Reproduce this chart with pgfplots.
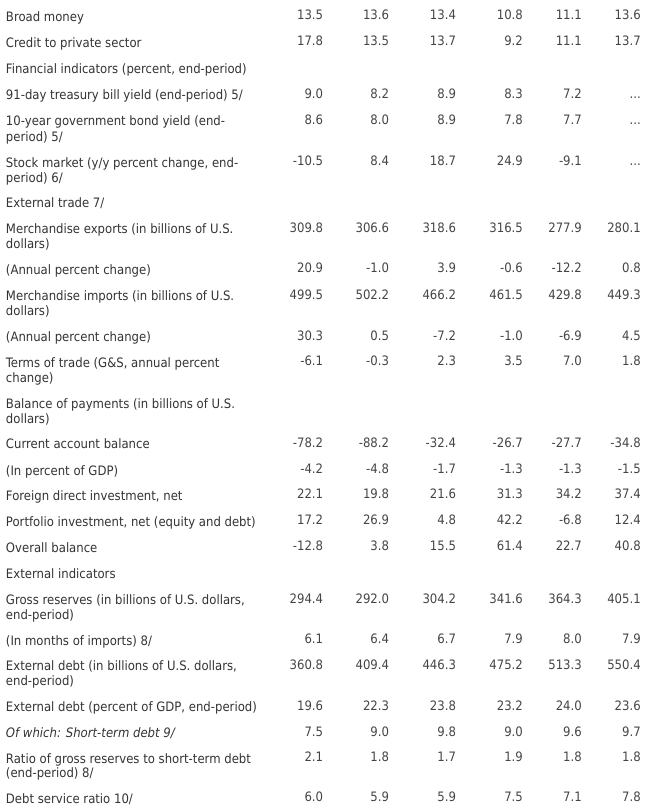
\documentclass[border=0pt]{standalone}
\usepackage{pgfplots}
\usepackage{pgfplotstable}
\usepackage{fontspec}
\setmainfont{DejaVu Sans Condensed}
\pgfplotsset{compat=1.18}
\definecolor{labc}{HTML}{333333}
\definecolor{valc}{HTML}{444444}

\pgfplotstableread[col sep=semicolon]{
y;txt
20.5;Broad money
46.5;Credit to private sector
73;Financial indicators (percent, end-period)
99;91-day treasury bill yield (end-period) 5/
125;10-year government bond yield (end-
140.5;period) 5/
166.5;Stock market (y/y percent change, end-
181.5;period) 6/
207;External trade 7/
233;Merchandise exports (in billions of U.S.
248;dollars)
273.5;(Annual percent change)
300;Merchandise imports (in billions of U.S.
314.5;dollars)
341;(Annual percent change)
366.7;Terms of trade (G\&S, annual percent
381.5;change)
408.3;Balance of payments (in billions of U.S.
423;dollars)
448.3;Current account balance
475;(In percent of GDP)
500;Foreign direct investment, net
526;Portfolio investment, net (equity and debt)
551.7;Overall balance
578;External indicators
604.5;Gross reserves (in billions of U.S. dollars,
619.5;end-period)
645;(In months of imports) 8/
670.5;External debt (in billions of U.S. dollars,
685.5;end-period)
711.5;External debt (percent of GDP, end-period)
737.5;{\itshape Of which: Short-term debt 9/}
763;Ratio of gross reserves to short-term debt
777.5;(end-period) 8/
803;Debt service ratio 10/
}\labels

\pgfplotstableread{
y a b c d e f
19 13.5 13.6 13.4 10.8 11.1 13.6
45 17.8 13.5 13.7 9.2 11.1 13.7
97.5 9.0 8.2 8.9 8.3 7.2 ...
123.5 8.6 8.0 8.9 7.8 7.7 ...
165 -10.5 8.4 18.7 24.9 -9.1 ...
231.5 309.8 306.6 318.6 316.5 277.9 280.1
272 20.9 -1.0 3.9 -0.6 -12.2 0.8
298.5 499.5 502.2 466.2 461.5 429.8 449.3
339.5 30.3 0.5 -7.2 -1.0 -6.9 4.5
365.2 -6.1 -0.3 2.3 3.5 7.0 1.8
446.8 -78.2 -88.2 -32.4 -26.7 -27.7 -34.8
473.5 -4.2 -4.8 -1.7 -1.3 -1.3 -1.5
498.5 22.1 19.8 21.6 31.3 34.2 37.4
524.5 17.2 26.9 4.8 42.2 -6.8 12.4
550.2 -12.8 3.8 15.5 61.4 22.7 40.8
603 294.4 292.0 304.2 341.6 364.3 405.1
643.5 6.1 6.4 6.7 7.9 8.0 7.9
669 360.8 409.4 446.3 475.2 513.3 550.4
710 19.6 22.3 23.8 23.2 24.0 23.6
736 7.5 9.0 9.8 9.0 9.6 9.7
761.5 2.1 1.8 1.7 1.9 1.8 1.8
801.5 6.0 5.9 5.9 7.5 7.1 7.8
}\vals

\begin{document}
\begin{tikzpicture}
\begin{axis}[
  scale only axis, width=646bp, height=808bp,
  xmin=0, xmax=646, ymin=0, ymax=808, y dir=reverse,
  enlargelimits=false, hide axis, clip=false,
  point meta=explicit symbolic,
  nodes near coords,
  every node near coord/.append style={inner sep=0pt, outer sep=0pt,
     font=\fontsize{13bp}{15bp}\selectfont},
]
\addplot[draw=none, forget plot] coordinates {(0,0) (646,808)};
\addplot[draw=none, mark=none, nodes near coords style={anchor=base west, text=labc}]
  table[x expr=5.5, y=y, meta=txt] {\labels};
\pgfplotsforeachungrouped \c/\xx in {a/323, b/389, c/456, d/523, e/582, f/641} {
  \edef\tmp{\noexpand\addplot[draw=none, mark=none, nodes near coords style={anchor=base east, text=valc}]
    table[x expr=\xx, y=y, meta=\c] {\noexpand\vals};}
  \tmp
}
\end{axis}
\end{tikzpicture}
\end{document}
